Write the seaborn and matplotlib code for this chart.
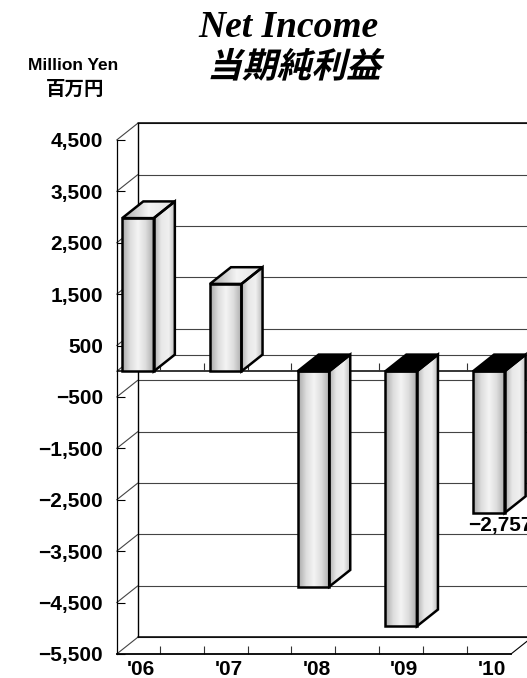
import numpy as np
import pandas as pd
import matplotlib.pyplot as plt
import matplotlib.patheffects as pe
from matplotlib.colors import LinearSegmentedColormap
from matplotlib.patches import Polygon
from matplotlib.transforms import Affine2D, ScaledTranslation
import seaborn as sns

years = ["'06", "'07", "'08", "'09", "'10"]
net_income = [2980, 1700, -4190, -4960, -2757]
y_ticks = [4500, 3500, 2500, 1500, 500, -500, -1500, -2500, -3500, -4500, -5500]
y_labels = ['4,500', '3,500', '2,500', '1,500', '500', '−500', '−1,500', '−2,500',
            '−3,500', '−4,500', '−5,500']

W, H = 527, 678
# fake 3d depth, in data units
DX = 0.24
DY = 325
XMIN, XMAX = -0.243, 4.253
YMIN, YMAX = -5500, 4500


class Slant(pe.AbstractPathEffect):
    # the CJK fonts have no italic, so shear the glyphs
    def draw_path(self, renderer, gc, tpath, affine, rgbFace=None):
        renderer.draw_path(gc, tpath, Affine2D().skew_deg(14, 0) + affine, rgbFace)


def gradient(ax, poly, x0, x1, y0, y1, cmap, z):
    # gradient image cut to the shape of the face
    im = ax.imshow(np.linspace(0, 1, 64).reshape(1, -1), cmap=cmap, aspect='auto',
                   extent=(x0, x1, y0, y1), zorder=z, vmin=0, vmax=1)
    im.set_clip_box(ax.figure.bbox)
    im.set_clip_path(Polygon(poly, transform=ax.transData))


sns.set_theme(style='white')
plt.rcParams['font.family'] = ['Liberation Sans', 'Noto Sans CJK JP']

fig = plt.figure(figsize=(W / 100, H / 100), dpi=100)
ax = fig.add_axes([116.7 / W, 1 - 654 / H, (511 - 116.7) / W, (654 - 140) / H])

df = pd.DataFrame({'year': years, 'income': net_income})
sns.barplot(data=df, x='year', y='income', color='white', width=0.36, saturation=1,
            edgecolor='black', linewidth=1.8, errorbar=None, ax=ax)

metal = LinearSegmentedColormap.from_list('metal', ['#a8a8a8', '#dcdcdc', '#f4f4f4', '#dcdcdc', '#acacac'])
side = LinearSegmentedColormap.from_list('side', ['#b0b0b0', '#e8e8e8', '#f0f0f0', '#b8b8b8'])
top = LinearSegmentedColormap.from_list('top', ['#a8a8a8', '#f4f4f4', '#e0e0e0'])

# back wall and the lines joining it to the front plane
right = XMAX + DX
wall = dict(color='#444444', lw=0.8, clip_on=False, zorder=1)
for y in y_ticks:
    ax.plot([XMIN + DX, right], [y + DY, y + DY], **wall)
    ax.plot([XMIN, XMIN + DX], [y, y + DY], **wall)
ax.plot([XMIN + DX, right], [DY, DY], **wall)
ax.plot([XMIN, XMIN + DX], [0, DY], **wall)
ax.plot([XMIN + DX, XMIN + DX], [YMIN + DY, YMAX + DY], color='black', lw=1, clip_on=False, zorder=1)
ax.plot([XMIN + DX, right], [YMAX + DY, YMAX + DY], color='black', lw=1.1, clip_on=False, zorder=1)
ax.plot([XMIN + DX, right], [YMIN + DY, YMIN + DY], color='black', lw=1.1, clip_on=False, zorder=1)
ax.plot([XMAX, right], [YMIN, YMIN + DY], color='black', lw=0.8, clip_on=False, zorder=1)

# zero axis with its ticks
minor = np.arange(0.25, 4, 0.5)
ax.axhline(0, color='black', lw=1.1, zorder=2)
ax.vlines(minor, 0, 155, color='#333333', lw=0.8, zorder=2)

for i, bar in enumerate(ax.patches):
    x0 = bar.get_x()
    x1 = x0 + bar.get_width()
    v = net_income[i]
    z = 3 + i
    bar.set_facecolor('none')
    bar.set_zorder(z + 0.5)
    bar.set_clip_on(False)
    gradient(ax, [(x0, 0), (x1, 0), (x1, v), (x0, v)], x0, x1, min(v, 0), max(v, 0), metal, z)

    # right hand face
    face = [(x1, v), (x1 + DX, v + DY), (x1 + DX, DY), (x1, 0)]
    gradient(ax, face, x1, x1 + DX, min(v, 0), max(v, 0) + DY, side, z)
    ax.add_patch(Polygon(face, closed=True, fc='none', ec='black', lw=1.8, clip_on=False,
                         joinstyle='miter', zorder=z + 0.4))

    # top face, black where the bar hangs under the axis
    y_top = max(v, 0)
    lid = [(x0, y_top), (x1, y_top), (x1 + DX, y_top + DY), (x0 + DX, y_top + DY)]
    if v < 0:
        ax.add_patch(Polygon(lid, closed=True, fc='black', ec='black', lw=1.8, clip_on=False,
                             joinstyle='miter', zorder=z + 0.4))
    else:
        gradient(ax, lid, x0, x1 + DX, y_top, y_top + DY, top, z)
        ax.add_patch(Polygon(lid, closed=True, fc='none', ec='black', lw=1.8, clip_on=False,
                             joinstyle='miter', zorder=z + 0.4))

ax.set_xlim(XMIN, XMAX)
ax.set_ylim(YMIN, YMAX)
ax.set_xlabel('')
ax.set_ylabel('')
ax.grid(False)
sns.despine(ax=ax)
ax.spines['left'].set_linewidth(0.9)
ax.spines['bottom'].set_linewidth(1.3)
for s in ('left', 'bottom'):
    ax.spines[s].set_color('black')
ax.set_facecolor('none')

ax.set_yticks(y_ticks)
ax.set_yticklabels(y_labels, fontsize=15, fontweight='bold', color='black')
ax.tick_params(axis='y', direction='in', length=5.5, width=0.8, left=True, color='black', pad=10)
ax.set_xticks(range(5))
ax.set_xticklabels(years, fontsize=15, fontweight='bold', color='black')
ax.set_xticks(minor, minor=True)
ax.tick_params(axis='x', which='major', length=0, pad=4)
ax.tick_params(axis='x', which='minor', direction='in', length=5.5, width=0.8, bottom=True, color='#333333')
shift = ScaledTranslation(3 / 100, 0, fig.dpi_scale_trans)
for lab in ax.get_xticklabels():
    lab.set_transform(lab.get_transform() + shift)

# only the last bar carries a value
ax.annotate('−2,757', (4, net_income[4]), xytext=(-21, -3), textcoords='offset pixels',
            fontsize=15, fontweight='bold', color='black', ha='left', va='top',
            annotation_clip=False, zorder=20)

fig.text(288 / W, 1 - 37 / H, 'Net Income', family='Liberation Serif', style='italic',
         fontweight='bold', fontsize=27, ha='center', va='baseline', color='black')
fig.text(294 / W, 1 - 67 / H, '当期純利益', family='Noto Sans CJK JP', fontweight='bold',
         fontsize=25, ha='center', va='center', color='black', path_effects=[Slant()])
fig.text(73 / W, 1 - 65 / H, 'Million Yen', fontweight='bold', fontsize=12.5,
         ha='center', va='center', color='black')
fig.text(75 / W, 1 - 89 / H, '百万円', family='Noto Sans CJK JP', fontweight='bold', fontsize=14,
         ha='center', va='center', color='black')

fig.savefig('out.png', dpi=100)
